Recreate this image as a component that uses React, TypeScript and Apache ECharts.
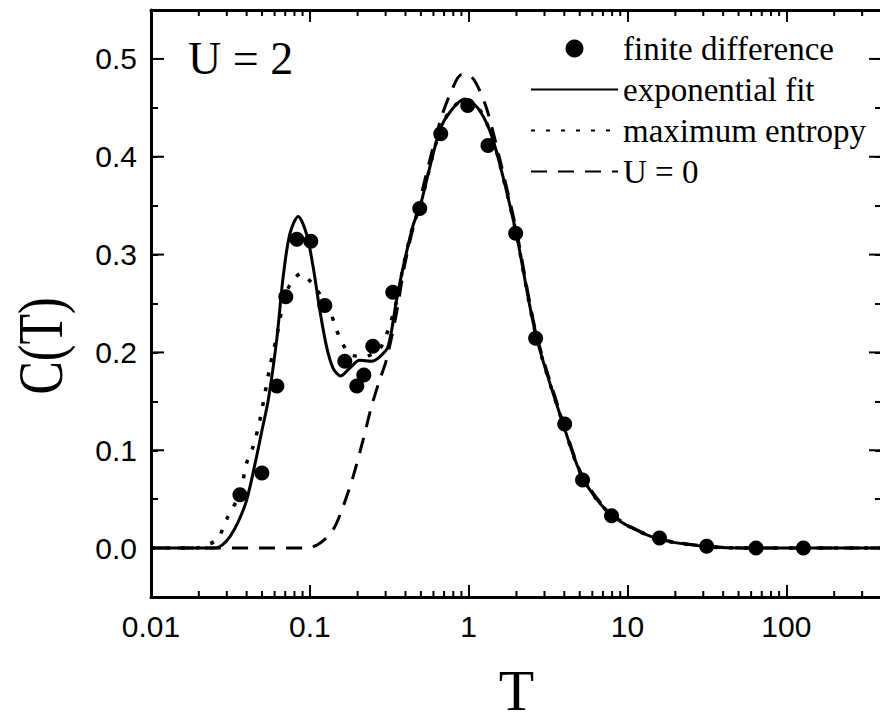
import React, { useEffect, useRef } from 'react';
import * as echarts from 'echarts';

// ---- data ----
const finiteT = [0.0363, 0.0499, 0.062, 0.0706, 0.0828, 0.1014, 0.1243, 0.166, 0.1976, 0.2187, 0.249, 0.3327, 0.492, 0.667, 0.986, 1.323, 1.976, 2.64, 4.02, 5.21, 7.93, 15.9, 31.5, 64.4, 128];
const finiteC = [0.0544, 0.0768, 0.1656, 0.257, 0.3156, 0.3136, 0.248, 0.191, 0.1656, 0.1768, 0.2064, 0.2615, 0.347, 0.4236, 0.4525, 0.4115, 0.3217, 0.2146, 0.1268, 0.0697, 0.033, 0.0103, 0.0018, 0.0, 0.0];

const expT = [0.01, 0.02, 0.0253, 0.028, 0.0314, 0.0352, 0.04, 0.0462, 0.0499, 0.0547, 0.0618, 0.0679, 0.0748, 0.0844, 0.0953, 0.105, 0.1156, 0.1274, 0.14, 0.156, 0.1786, 0.206, 0.2443, 0.2754, 0.311, 0.351, 0.3865, 0.4467, 0.492, 0.6577, 0.782, 0.944, 1.139, 1.356, 1.567, 1.995, 2.666, 3.917, 5.236, 7.9, 14.8, 31.3, 64.4, 400];
const expC = [0, 0, 0, 0.003, 0.0118, 0.026, 0.049, 0.0935, 0.12, 0.151, 0.2125, 0.277, 0.321, 0.339, 0.321, 0.287, 0.243, 0.206, 0.184, 0.176, 0.184, 0.192, 0.191, 0.1955, 0.206, 0.253, 0.287, 0.33, 0.348, 0.427, 0.448, 0.459, 0.45, 0.427, 0.393, 0.321, 0.216, 0.1276, 0.0714, 0.034, 0.0105, 0.0016, 0, 0];

const meT = [0.01, 0.0195, 0.0208, 0.0259, 0.0305, 0.0363, 0.04, 0.044, 0.0485, 0.056, 0.0618, 0.0696, 0.0782, 0.0887, 0.1015, 0.1185, 0.1336, 0.1472, 0.1606, 0.1837, 0.2218, 0.2754, 0.311, 0.351, 0.3865, 0.4467, 0.492, 0.6577, 0.782, 0.944, 1.139, 1.356, 1.567, 1.995, 2.666, 3.917, 5.236, 7.9, 14.8, 31.3, 64.4, 400];
const meC = [0, 0, 0.0016, 0.0085, 0.032, 0.056, 0.087, 0.104, 0.131, 0.185, 0.216, 0.257, 0.274, 0.2806, 0.272, 0.257, 0.243, 0.223, 0.209, 0.197, 0.196, 0.204, 0.223, 0.252, 0.287, 0.33, 0.348, 0.427, 0.449, 0.458, 0.451, 0.427, 0.393, 0.321, 0.216, 0.1276, 0.0714, 0.034, 0.0105, 0.0016, 0, 0];

const u0T = [0.01, 0.0953, 0.1156, 0.14, 0.162, 0.1872, 0.2164, 0.2443, 0.2754, 0.303, 0.351, 0.396, 0.492, 0.6577, 0.782, 0.9036, 1.0144, 1.123, 1.298, 1.567, 1.995, 2.666, 3.917, 5.236, 7.9, 14.8, 31.3, 64.4, 400];
const u0C = [0, 0, 0.005, 0.0187, 0.0425, 0.073, 0.1105, 0.1445, 0.172, 0.192, 0.24, 0.29, 0.355, 0.435, 0.468, 0.484, 0.483, 0.474, 0.449, 0.398, 0.325, 0.219, 0.13, 0.073, 0.035, 0.011, 0.002, 0, 0];

const yMajorTicks = [0, 0.1, 0.2, 0.3, 0.4, 0.5];
const xMinorTicks = [0.02, 0.03, 0.04, 0.05, 0.06, 0.07, 0.08, 0.09, 0.2, 0.3, 0.4, 0.5, 0.6, 0.7, 0.8, 0.9, 2, 3, 4, 5, 6, 7, 8, 9, 20, 30, 40, 50, 60, 70, 80, 90, 200, 300];

const X_MIN = 0.01;
const X_MAX = 400;
const Y_MIN = -0.05;
const Y_MAX = 0.55;

const pairs = (t: number[], c: number[]) => t.map((v, i) => [v, c[i]]);

const SANS = '"Liberation Sans", Arial, sans-serif';
const SERIF = '"Liberation Serif", "Times New Roman", serif';

export default function App() {
  const ref = useRef<HTMLDivElement>(null);
  useEffect(() => {
    if (!ref.current) return;
    const chart = echarts.init(ref.current, null, { renderer: 'svg' });
    const axisLine = { show: true, onZero: false, lineStyle: { color: '#000', width: 3 } };
    const xBase = {
      type: 'log' as const,
      logBase: 10,
      min: X_MIN,
      max: X_MAX,
      axisLine,
      axisTick: { show: true, inside: true, length: 12, lineStyle: { color: '#000', width: 2 } },
      splitLine: { show: false },
      minorTick: { show: false },
    };
    const yBase = {
      type: 'value' as const,
      min: Y_MIN,
      max: Y_MAX,
      interval: 0.05,
      axisLine,
      axisTick: { show: true, inside: true, length: 7, lineStyle: { color: '#000', width: 2 } },
      splitLine: { show: false },
    };
    const lineLegendItem = (name: string) => ({ name, itemStyle: { opacity: 0 } });
    const option: any = {
      animation: false,
      backgroundColor: '#fff',
      grid: { left: 151, top: 10, width: 731, height: 587, containLabel: false, outerBoundsMode: 'none' },
      xAxis: [
        {
          ...xBase,
          position: 'bottom',
          name: 'T',
          nameLocation: 'middle',
          nameGap: 71,
          nameTextStyle: { fontFamily: SERIF, fontSize: 58, lineHeight: 44, color: '#000' },
          axisLabel: {
            show: true,
            margin: 14,
            fontFamily: SANS,
            fontSize: 30,
            color: '#000',
            formatter: (v: number) => {
              const l = Math.log10(v);
              if (Math.abs(l - Math.round(l)) > 1e-6) return '';
              return String(Number(v.toPrecision(6)));
            },
          },
        },
        { ...xBase, position: 'top', axisLabel: { show: false } },
      ],
      yAxis: [
        {
          ...yBase,
          position: 'left',
          axisLabel: {
            show: true,
            margin: 14,
            fontFamily: SANS,
            fontSize: 30,
            color: '#000',
            formatter: (v: number) => {
              const k = Math.round(v * 100);
              if (k % 10 !== 0) return '';
              return (k / 100).toFixed(1);
            },
          },
        },
        { ...yBase, position: 'right', axisLabel: { show: false } },
      ],
      legend: {
        data: [
          { name: 'finite difference', icon: 'circle' },
          lineLegendItem('exponential fit'),
          lineLegendItem('maximum entropy'),
          lineLegendItem('U = 0'),
        ],
        orient: 'vertical',
        left: 525,
        top: 27,
        itemWidth: 87,
        itemHeight: 18,
        itemGap: 8,
        selectedMode: false,
        textStyle: { fontFamily: SERIF, fontSize: 33, color: '#000' },
      },
      graphic: [
        {
          type: 'text',
          x: 188,
          y: 58,
          style: { text: 'U = 2', fontFamily: SERIF, fontSize: 46, fill: '#000', align: 'left', verticalAlign: 'middle' },
        },
        {
          type: 'text',
          x: 40,
          y: 346,
          rotation: Math.PI / 2,
          scaleX: 0.78,
          style: { text: 'C(T)', fontFamily: SERIF, fontSize: 64, fill: '#000', align: 'center', verticalAlign: 'middle' },
        },
      ],
      series: [
        {
          name: 'U = 0',
          type: 'line',
          data: pairs(u0T, u0C),
          symbol: 'none',
          smooth: 0.3,
          lineStyle: { color: '#000', width: 3, type: [16, 11] },
          itemStyle: { color: '#000' },
          z: 2,
        },
        {
          name: 'maximum entropy',
          type: 'line',
          data: pairs(meT, meC),
          symbol: 'none',
          smooth: 0.3,
          lineStyle: { color: '#000', width: 3.5, type: [4, 11] },
          itemStyle: { color: '#000' },
          z: 2,
        },
        {
          name: 'exponential fit',
          type: 'line',
          data: pairs(expT, expC),
          symbol: 'none',
          smooth: 0.3,
          lineStyle: { color: '#000', width: 3 },
          itemStyle: { color: '#000' },
          z: 3,
        },
        {
          name: 'finite difference',
          type: 'scatter',
          data: pairs(finiteT, finiteC),
          symbol: 'circle',
          symbolSize: 15,
          itemStyle: { color: '#000', opacity: 1 },
          z: 5,
        },
        {
          name: 'xMinor',
          type: 'custom',
          clip: false,
          silent: true,
          data: xMinorTicks.map((v) => [v, 0]),
          renderItem: (params: any, api: any) => {
            const v = api.value(0);
            const b = api.coord([v, Y_MIN]);
            const t = api.coord([v, Y_MAX]);
            const style = { stroke: '#000', lineWidth: 2 };
            return {
              type: 'group',
              children: [
                { type: 'line', shape: { x1: b[0], y1: b[1], x2: b[0], y2: b[1] - 6 }, style },
                { type: 'line', shape: { x1: t[0], y1: t[1], x2: t[0], y2: t[1] + 6 }, style },
              ],
            };
          },
        },
        {
          name: 'yMajor',
          type: 'custom',
          clip: false,
          silent: true,
          data: yMajorTicks.map((v) => [X_MIN, v]),
          renderItem: (params: any, api: any) => {
            const v = api.value(1);
            const l = api.coord([X_MIN, v]);
            const r = api.coord([X_MAX, v]);
            const style = { stroke: '#000', lineWidth: 2 };
            return {
              type: 'group',
              children: [
                { type: 'line', shape: { x1: l[0], y1: l[1], x2: l[0] + 13, y2: l[1] }, style },
                { type: 'line', shape: { x1: r[0], y1: r[1], x2: r[0] - 13, y2: r[1] }, style },
              ],
            };
          },
        },
      ],
    };
    chart.setOption(option);
    return () => chart.dispose();
  }, []);
  return <div ref={ref} style={{ position: 'absolute', left: 0, top: 0, width: 880, height: 724 }} />;
}
